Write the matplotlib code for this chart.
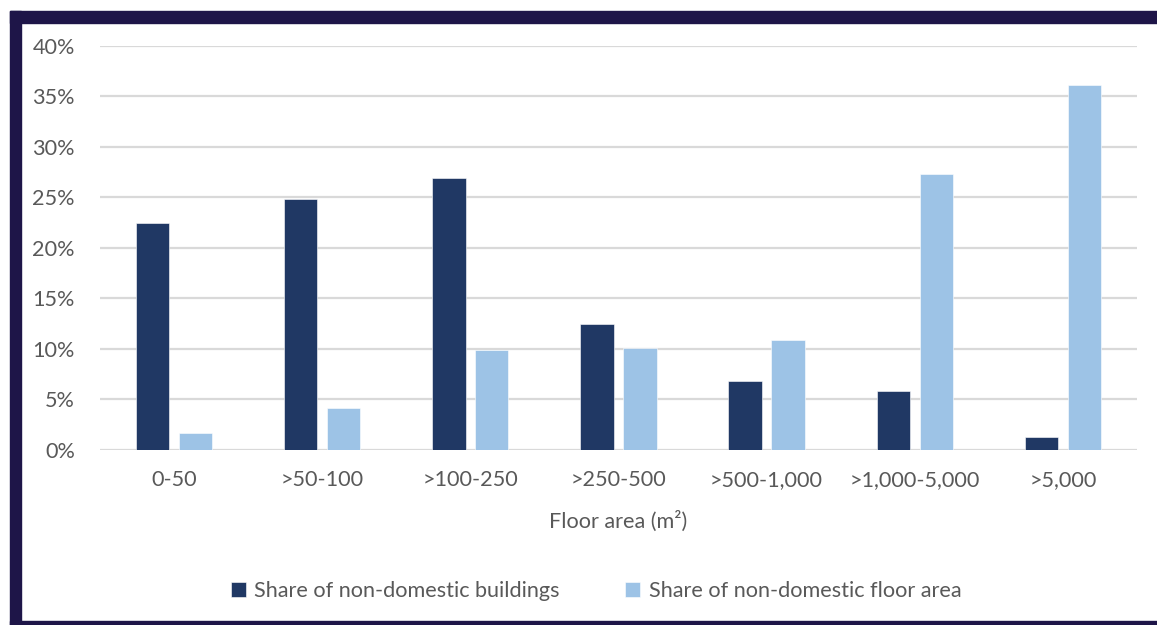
import matplotlib
matplotlib.use("Agg")
import matplotlib.pyplot as plt
from matplotlib.patches import Rectangle
from matplotlib.ticker import FuncFormatter, MultipleLocator
import numpy as np

categories = ["0-50", ">50-100", ">100-250", ">250-500", ">500-1,000", ">1,000-5,000", ">5,000"]
share_buildings = [22.5, 24.8, 26.9, 12.4, 6.8, 5.8, 1.2]
share_floor_area = [1.6, 4.1, 9.9, 10.1, 10.9, 27.3, 36.1]
series_names = ["Share of non-domestic buildings", "Share of non-domestic floor area"]

plt.rcParams['font.family'] = ['Lato', 'DejaVu Sans']
TEXT = "#595959"
DARK = "#203864"
LIGHT = "#9DC3E6"
FRAME = "#1E1548"
FS = 15.6

fig = plt.figure(figsize=(11.57, 6.25), dpi=100)
ax = fig.add_axes([0.0864, 0.2808, 0.8963, 0.6456])

x = np.arange(len(categories))
w = 0.225
off = 0.145
ax.bar(x - off, share_buildings, width=w, color=DARK, edgecolor="white", linewidth=0.4,
       label=series_names[0], zorder=3)
ax.bar(x + off, share_floor_area, width=w, color=LIGHT, edgecolor="white", linewidth=0.4,
       label=series_names[1], zorder=3)

ax.set_xlim(-0.5, len(categories) - 0.5)
ax.set_ylim(0, 40)
ax.yaxis.set_major_locator(MultipleLocator(5))
ax.yaxis.set_major_formatter(FuncFormatter(lambda v, p: f"{v:.0f}%"))
ax.grid(axis="y", color="#D9D9D9", linewidth=1.6, zorder=0)
ax.set_axisbelow(True)
for s in ax.spines.values():
    s.set_visible(False)
ax.tick_params(axis="both", length=0, labelsize=FS, labelcolor=TEXT)
ax.tick_params(axis="y", pad=18)
ax.tick_params(axis="x", pad=15)
ax.set_xticks(x)
ax.set_xticklabels(categories)
ax.set_xlabel("Floor area (m²)", fontsize=FS, color=TEXT, labelpad=15)

leg = fig.legend(loc="center", bbox_to_anchor=(596 / 1157, 1 - 591 / 625), ncol=2,
                 frameon=False, fontsize=FS, handlelength=0.7, handleheight=0.7,
                 handletextpad=0.4, columnspacing=3.0)
for t in leg.get_texts():
    t.set_color(TEXT)

# dark frame around chart
fig.patches.append(Rectangle((10 / 1157, 0), 11 / 1157, 1 - 11 / 625, transform=fig.transFigure,
                             color=FRAME, zorder=0))
fig.patches.append(Rectangle((10 / 1157, 1 - 22.5 / 625), 1, 11.5 / 625, transform=fig.transFigure,
                             color=FRAME, zorder=0))
fig.patches.append(Rectangle((10 / 1157, 0), 1, 4.5 / 625, transform=fig.transFigure,
                             color=FRAME, zorder=0))

fig.savefig("out.png", dpi=100, facecolor="white")
